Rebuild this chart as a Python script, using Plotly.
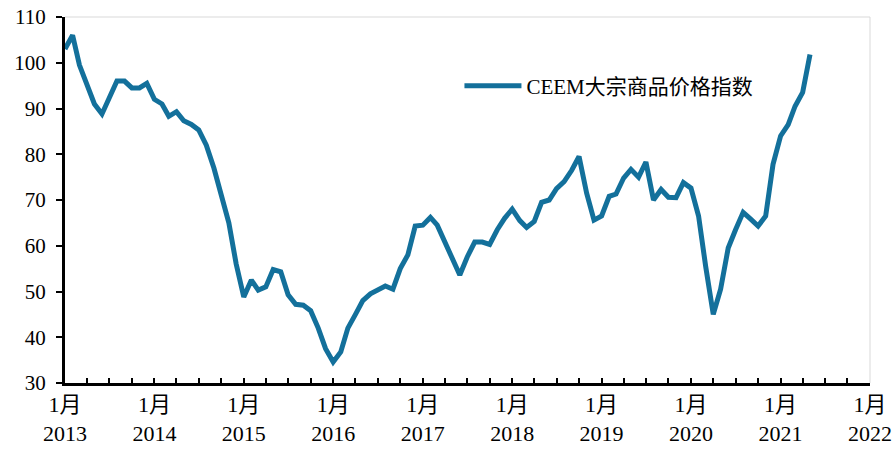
import plotly.graph_objects as go
import pandas as pd

series_name = "CEEM大宗商品价格指数"
start_month = "2013-01-01"
values = [
    103.0, 106.0, 99.5, 95.0, 91.0, 88.8, 92.5, 96.0, 96.0, 94.5, 94.5, 95.5,   # 2013
    92.0, 91.0, 88.3, 89.3, 87.3, 86.5, 85.3, 82.0, 77.0, 71.0, 65.0, 56.0,     # 2014
    48.8, 52.5, 50.3, 51.0, 54.8, 54.3, 49.3, 47.2, 47.0, 45.8, 42.0, 37.5,     # 2015
    34.6, 36.8, 42.0, 45.0, 48.0, 49.5, 50.2, 51.2, 50.5, 55.0, 58.0, 64.3,     # 2016
    64.5, 66.2, 64.5, 61.0, 57.0, 53.6, 57.5, 60.8, 60.8, 60.3, 63.5, 66.0,     # 2017
    68.0, 65.5, 64.0, 65.3, 69.5, 70.0, 72.5, 74.0, 76.5, 79.5, 71.5, 65.6,     # 2018
    66.5, 70.8, 71.3, 74.8, 76.7, 75.0, 78.3, 70.0, 72.3, 70.6, 70.5, 73.8,     # 2019
    72.6, 66.5, 55.5, 45.0, 50.5, 59.5, 63.5, 67.3, 65.8, 64.3, 66.5, 77.8,     # 2020
    84.0, 86.5, 90.5, 93.5, 101.8,                                             # 2021
]
tick_years = [2013, 2014, 2015, 2016, 2017, 2018, 2019, 2020, 2021, 2022]
tick_month_label = "1月"
y_ticks = [30, 40, 50, 60, 70, 80, 90, 100, 110]

dates = pd.date_range(start_month, periods=len(values), freq="MS")
tickvals = [f"{y}-01-01" for y in tick_years]
ticktext = [f"{tick_month_label}<br>{y}" for y in tick_years]

FONT = "Liberation Serif, 'Noto Sans CJK SC', serif"

fig = go.Figure()
fig.add_trace(go.Scatter(
    x=dates, y=values, mode="lines", name=series_name,
    line=dict(color="#13709b", width=5),
))

fig.update_layout(
    width=896, height=449,
    margin=dict(l=65, r=26, t=17, b=66),
    paper_bgcolor="white", plot_bgcolor="white",
    font=dict(family=FONT, size=21, color="#000000"),
    showlegend=True,
    legend=dict(
        x=0.49, y=0.811, xanchor="left", yanchor="middle",
        bgcolor="rgba(0,0,0,0)", itemwidth=57,
        font=dict(family=FONT, size=21, color="#000000"),
    ),
    xaxis=dict(
        type="date", automargin=False,
        range=["2013-01-01", "2022-01-01"],
        tickmode="array", tickvals=tickvals, ticktext=ticktext,
        ticks="inside", ticklen=5, tickwidth=2, tickcolor="black",
        minor=dict(ticks="inside", dtick="M3", ticklen=5, tickwidth=2,
                   tickcolor="black", showgrid=False),
        showline=True, linecolor="black", linewidth=3,
        showgrid=False, zeroline=False,
        tickfont=dict(family=FONT, size=22),
    ),
    yaxis=dict(
        range=[30, 110], tickvals=y_ticks, automargin=False,
        ticks="outside", ticklen=6, tickwidth=2, tickcolor="black",
        showline=True, linecolor="black", linewidth=3,
        showgrid=False, zeroline=False,
        tickfont=dict(family=FONT, size=21),
        ticklabelstandoff=6,
    ),
    shapes=[
        dict(type="line", xref="paper", yref="paper", x0=0, x1=1, y0=1, y1=1,
             line=dict(color="#d9d9d9", width=1), layer="below"),
        dict(type="line", xref="paper", yref="paper", x0=1, x1=1, y0=0, y1=1,
             line=dict(color="#d9d9d9", width=1), layer="below"),
    ],
)

fig.write_html("out.html", config={"displayModeBar": False, "staticPlot": True})

# remove the browser's default page margin so the figure fills the window
with open("out.html", "r", encoding="utf-8") as f:
    html = f.read()
html = html.replace("<body>", '<body style="margin:0;padding:0;overflow:hidden">', 1)
with open("out.html", "w", encoding="utf-8") as f:
    f.write(html)
